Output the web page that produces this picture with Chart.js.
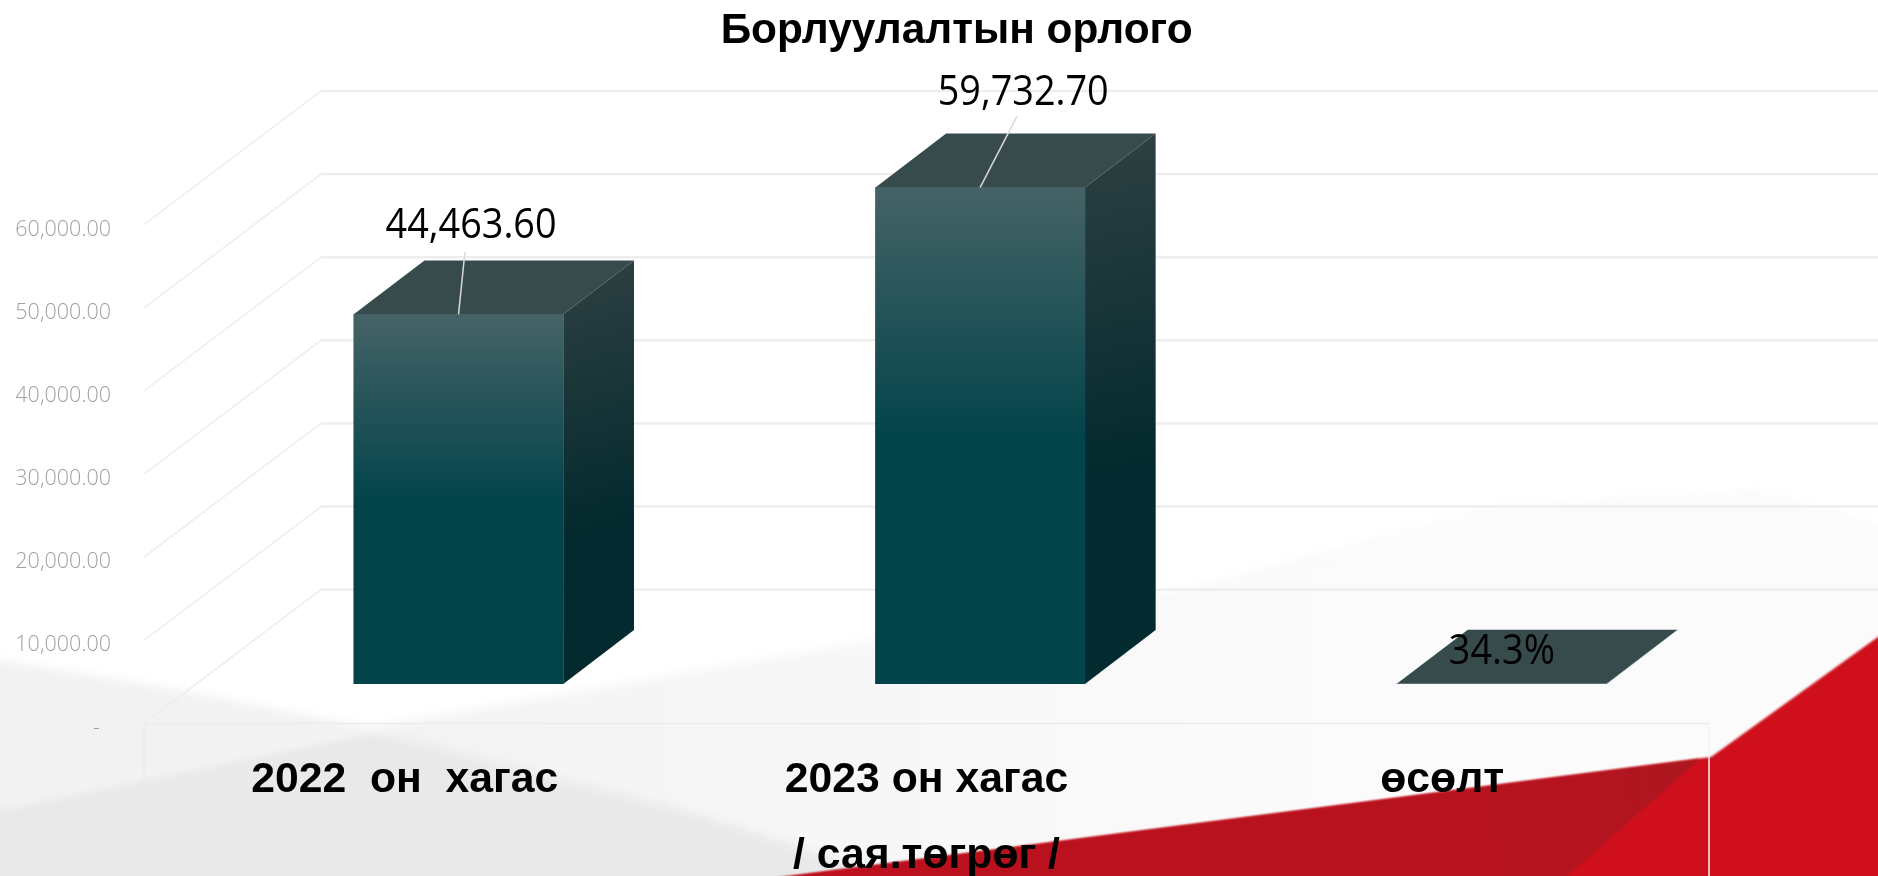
<!DOCTYPE html>
<html>
<head>
<meta charset="utf-8">
<title>Борлуулалтын орлого</title>
<script src="https://cdnjs.cloudflare.com/ajax/libs/Chart.js/4.4.1/chart.umd.min.js"></script>
<style>
 html, body { margin: 0; padding: 0; background: #fff; overflow: hidden; }
 canvas { display: block; }
</style>
</head>
<body>
<canvas id="salesChart" width="1878" height="876"></canvas>
<script>
// Chart data
const chartTitle = 'Борлуулалтын орлого';
const categories = ['2022  он  хагас', ['2023 он хагас', '/ сая.төгрөг /'], 'өсөлт '];
const salesValues = [44463.6, 59732.7, 34.3];
const valueLabels = ['44,463.60', '59,732.70', '34.3%'];
const yTicks = [0, 10000, 20000, 30000, 40000, 50000, 60000];
const yTickLabels = ['-  ', '10,000.00', '20,000.00', '30,000.00', '40,000.00', '50,000.00', '60,000.00'];

// 3D look: the floor/wall depth, where the bars sit in it and how deep they are
const wallDepthX = 177, wallDepthY = 133.7;
const barShiftX = 53.7, barShiftY = 39.5;
const barDepthX = 70.7, barDepthY = 53.9;

// label and leader line offsets from the top centre of each bar
const labelOffsets = [[12.5, -88], [43, -94], [0, -32]];
const leaderOffsets = [[6.4, -62.3], [36.7, -71], null];

function fillPoly(ctx, points, fill) {
 ctx.beginPath();
 points.forEach((p, i) => i ? ctx.lineTo(p[0], p[1]) : ctx.moveTo(p[0], p[1]));
 ctx.closePath();
 ctx.fillStyle = fill;
 ctx.fill();
}

// Slide background behind the chart
const slideBackground = {
 id: 'slideBackground',
 beforeDraw(chart) {
     const ctx = chart.ctx;
     ctx.save();
     ctx.fillStyle = '#ffffff';
     ctx.fillRect(0, 0, chart.width, chart.height);

     // soft grey planes
     ctx.filter = 'blur(5px)';
     const light = ctx.createLinearGradient(372, 0, 1400, 0);
     light.addColorStop(0, '#f3f3f3');
     light.addColorStop(1, '#fbfbfb');
     fillPoly(ctx, [[372, 727], [875, 640], [1180, 590], [1500, 505], [1760, 490], [1900, 530], [1900, 900], [700, 900]], light);
     fillPoly(ctx, [[-20, 657], [162, 687], [372, 728], [-20, 811]], '#f2f2f2');
     fillPoly(ctx, [[-20, 811], [372, 730], [700, 815], [960, 900], [-20, 900]], '#e9e9e9');

     // red corner: the bright plane first, the darker wedge over it
     ctx.filter = 'blur(1px)';
     fillPoly(ctx, [[760, 880], [1711, 757], [1900, 621], [1900, 900], [760, 900]], '#cf101c');
     const dark = ctx.createLinearGradient(794, 876, 1711, 757);
     dark.addColorStop(0, '#bd101e');
     dark.addColorStop(0.85, '#b5141f');
     dark.addColorStop(1, '#aa181f');
     fillPoly(ctx, [[760, 880], [1700, 759], [1540, 900], [760, 900]], dark);
     ctx.filter = 'none';
     ctx.restore();
 }
};

// Walls, floor and table lines, taken from the y scale
const wallGrid = {
 id: 'wallGrid',
 beforeDatasetsDraw(chart) {
     const { ctx, chartArea, scales } = chart;
     const backLeft = chartArea.left + wallDepthX;
     ctx.save();
     yTicks.forEach((tick) => {
         const y = scales.y.getPixelForValue(tick);
         ctx.strokeStyle = '#eeeeee';
         ctx.lineWidth = 2.5;
         ctx.beginPath();
         ctx.moveTo(backLeft, y - wallDepthY);
         ctx.lineTo(chart.width, y - wallDepthY);
         ctx.stroke();
         ctx.lineWidth = 1.5;
         ctx.beginPath();
         ctx.moveTo(chartArea.left, y);
         ctx.lineTo(backLeft, y - wallDepthY);
         ctx.stroke();
     });
     // table frame under the floor
     ctx.lineWidth = 1.5;
     ctx.strokeStyle = '#ececec';
     ctx.beginPath();
     ctx.moveTo(chartArea.left, chart.height);
     ctx.lineTo(chartArea.left, chartArea.bottom);
     ctx.lineTo(chartArea.right, chartArea.bottom);
     ctx.stroke();
     ctx.strokeStyle = '#f4f4f4';
     ctx.beginPath();
     ctx.moveTo(chartArea.right, chartArea.bottom);
     ctx.lineTo(chartArea.right, chart.height);
     ctx.stroke();
     ctx.restore();
 }
};

// Pushes the bars back into the floor and adds their side and top faces
const bars3d = {
 id: 'bars3d',
 beforeDatasetsDraw(chart) {
     const ctx = chart.ctx;
     ctx.save();
     ctx.translate(barShiftX, -barShiftY);
     chart.getDatasetMeta(0).data.forEach((bar) => {
         const left = bar.x - bar.width / 2;
         const right = bar.x + bar.width / 2;
         const side = ctx.createLinearGradient(right, bar.y - barDepthY, right + barDepthX, bar.y + (bar.base - bar.y) * 0.55);
         side.addColorStop(0, '#2f4042');
         side.addColorStop(1, '#032a2e');
         fillPoly(ctx, [[right, bar.y], [right + barDepthX, bar.y - barDepthY], [right + barDepthX, bar.base - barDepthY], [right, bar.base]], side);
         fillPoly(ctx, [[left, bar.y], [left + barDepthX, bar.y - barDepthY], [right + barDepthX, bar.y - barDepthY], [right, bar.y]], '#374b4d');
     });
 },
 afterDatasetsDraw(chart) {
     const ctx = chart.ctx;
     chart.getDatasetMeta(0).data.forEach((bar, i) => {
         const leader = leaderOffsets[i];
         if (leader) {
             ctx.strokeStyle = '#d9d9d9';
             ctx.lineWidth = 1.5;
             ctx.beginPath();
             ctx.moveTo(bar.x, bar.y);
             ctx.lineTo(bar.x + leader[0], bar.y + leader[1]);
             ctx.stroke();
         }
         // the reference labels are a narrow face, so squeeze a larger size a bit
         ctx.save();
         ctx.translate(bar.x + labelOffsets[i][0], bar.y + labelOffsets[i][1]);
         ctx.scale(0.9, 1);
         ctx.fillStyle = '#000000';
         ctx.font = '42px "Open Sans"';
         ctx.textAlign = 'center';
         ctx.textBaseline = 'middle';
         ctx.fillText(valueLabels[i], 0, 0);
         ctx.restore();
     });
     ctx.restore();
 }
};

// The title sits right of the plot centre in the slide, so it is drawn here
const slideTitle = {
 id: 'slideTitle',
 afterDraw(chart) {
     const ctx = chart.ctx;
     ctx.save();
     ctx.fillStyle = '#000000';
     ctx.font = 'bold 42.4px "Liberation Sans"';
     ctx.textAlign = 'center';
     ctx.textBaseline = 'middle';
     ctx.fillText(chartTitle, 956.6, 31);
     ctx.restore();
 }
};

new Chart(document.getElementById('salesChart'), {
 type: 'bar',
 data: {
     labels: categories,
     datasets: [{
         data: salesValues,
         barThickness: 209.5,
         borderWidth: 0,
         backgroundColor: (c) => {
             // front face fades from lighter to dark teal; the gradient needs the sized scale
             if (c.type !== 'data' || !c.chart.chartArea) return '#03444b';
             const yScale = c.chart.scales.y;
             const top = yScale.getPixelForValue(salesValues[c.dataIndex]);
             const grad = c.chart.ctx.createLinearGradient(0, top, 0, yScale.getPixelForValue(0));
             grad.addColorStop(0, '#456366');
             grad.addColorStop(0.5, '#03444b');
             grad.addColorStop(1, '#03444b');
             return grad;
         }
     }]
 },
 plugins: [slideBackground, wallGrid, bars3d, slideTitle],
 options: {
     responsive: false,
     animation: false,
     layout: { padding: { top: 224.7, right: 169, bottom: 0, left: 0 } },
     plugins: {
         legend: { display: false },
         title: { display: false },
         tooltip: { enabled: false }
     },
     scales: {
         x: {
             afterFit: (axis) => { axis.height = 152.6; },
             grid: { display: false },
             border: { display: false },
             ticks: {
                 padding: 10,
                 maxRotation: 0,
                 color: '#000000',
                 font: { family: '"Liberation Sans"', size: 42.7, weight: 'bold', lineHeight: 1.8 }
             }
         },
         y: {
             min: 0,
             max: 60000,
             afterBuildTicks: (axis) => { axis.ticks = yTicks.map((value) => ({ value })); },
             afterFit: (axis) => { axis.width = 144; },
             grid: { display: false },
             border: { display: false },
             ticks: {
                 padding: 25,
                 labelOffset: 5,
                 color: '#a0a0a0',
                 font: { family: '"Open Sans"', size: 21.5, weight: 300 },
                 callback: (value, index) => yTickLabels[index]
             }
         }
     }
 }
});
</script>
</body>
</html>
